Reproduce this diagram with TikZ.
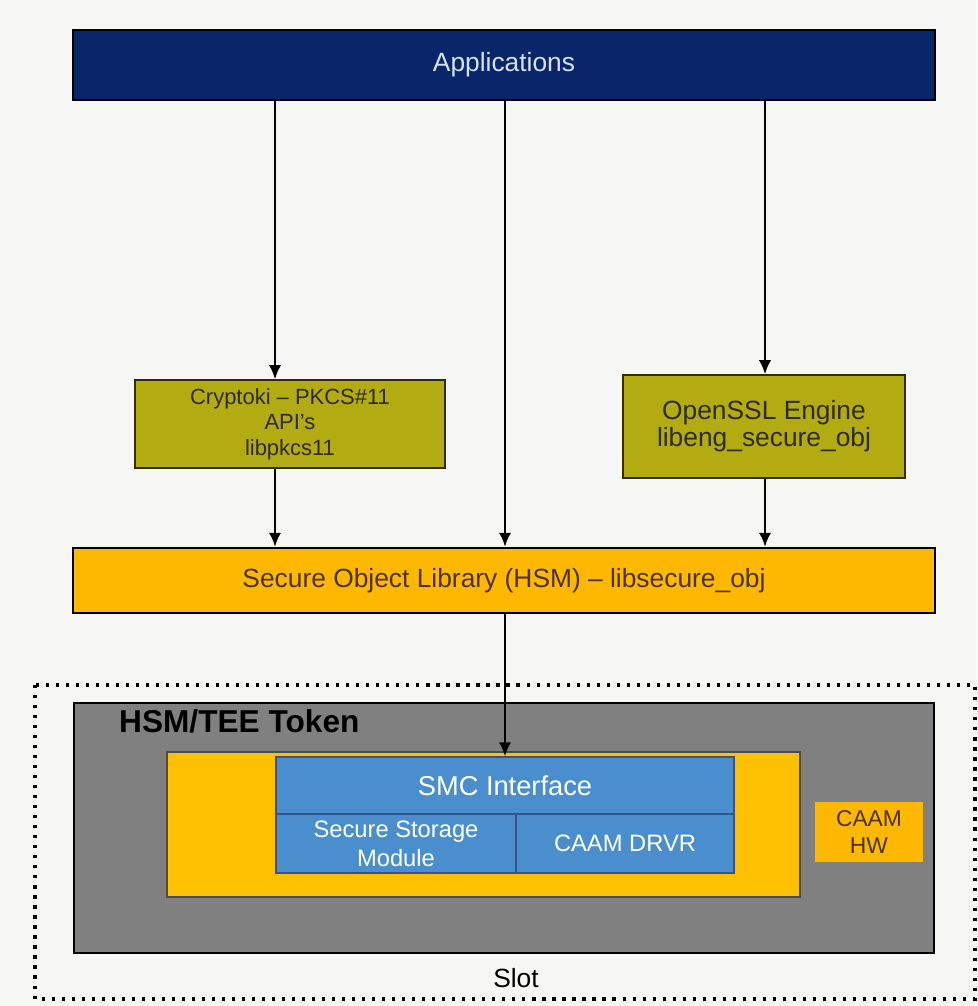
\documentclass[tikz,border=0pt]{standalone}
\usepackage{fontspec}
\setmainfont{Liberation Sans}
\usetikzlibrary{arrows.meta, positioning, calc}
\definecolor{appnavy}{RGB}{10,38,106}
\definecolor{apptext}{RGB}{214,226,244}
\definecolor{libolive}{RGB}{178,172,18}
\definecolor{libtext}{RGB}{48,44,8}
\definecolor{solorange}{RGB}{255,184,0}
\definecolor{soltext}{RGB}{78,52,0}
\definecolor{tokgray}{RGB}{128,128,128}
\definecolor{teeyellow}{RGB}{255,192,0}
\definecolor{teeblue}{RGB}{74,142,206}
\definecolor{pagebg}{RGB}{246,246,244}
\tikzset{
    % wide layer bars (applications, secure object library)
    layer/.style={draw=black, line width=1.3pt, inner sep=0pt},
    % middle library boxes (pkcs11, openssl engine)
    libbox/.style={draw=libtext, line width=0.8pt, fill=libolive, inner sep=0pt,
                   align=center, text=libtext},
    % blocks inside the trusted side
    teeblock/.style={draw=appnavy!80, line width=0.7pt, fill=teeblue, inner sep=0pt,
                     align=center, text=white},
    % directed edges
    edge/.style={-{Latex[length=8pt, width=7pt]}, line width=1.4pt},
    % dotted slot frame
    slotframe/.style={line width=1.8pt, dash pattern=on 1.8pt off 3.9pt},
}
\newcommand{\fsz}[2]{\fontsize{#1}{#2}\selectfont}

\begin{document}
\begin{tikzpicture}

    \fill[pagebg] (0, 0) rectangle (19.54, -20.12);
    \useasboundingbox (0, 0) rectangle (19.54, -20.12);

    % ===== top: applications and the two libraries =====
    \node[layer, fill=appnavy, text=apptext, font=\fsz{15}{17},
          minimum width=17.24cm, minimum height=1.40cm]
        (apps) at (10.08, -1.30) {Applications};

    \node[libbox, font=\fsz{12.5}{14.5}, minimum width=6.20cm, minimum height=1.76cm]
        (pkcs) at (5.80, -8.48) {Cryptoki -- PKCS\#11\\API's\\libpkcs11};
    \node[libbox, font=\fsz{15}{15.5}, minimum width=5.64cm, minimum height=2.06cm]
        (ossl) at (15.28, -8.53) {OpenSSL Engine\\libeng\_secure\_obj};

    \node[layer, fill=solorange, text=soltext, font=\fsz{15}{17},
          minimum width=17.24cm, minimum height=1.30cm]
        (sol) at (10.08, -11.61) {Secure Object Library (HSM) -- libsecure\_obj};

    % arrow columns
    \coordinate (colL) at (5.50, 0);
    \coordinate (colM) at (10.10, 0);
    \coordinate (colR) at (15.30, 0);

    \draw[edge] (apps.south -| colL) -- (pkcs.north -| colL);
    \draw[edge] (apps.south -| colM) -- (sol.north -| colM);
    \draw[edge] (apps.south -| colR) -- (ossl.north -| colR);
    \draw[edge] (pkcs.south -| colL) -- (sol.north -| colL);
    \draw[edge] (ossl.south -| colR) -- (sol.north -| colR);

    % ===== bottom: slot with the HSM/TEE token =====
    \draw[slotframe] (0.70, -13.70) rectangle (19.50, -19.98);
    \node[font=\fsz{15}{17}] (slot) at (10.32, -19.56) {Slot};

    \node[layer, fill=tokgray, minimum width=17.20cm, minimum height=5.00cm]
        (token) at (10.08, -16.56) {};
    \node[anchor=base west, font=\fsz{18}{20}\bfseries] (toklbl) at (2.26, -14.64) {HSM/TEE Token};

    \node[draw=black!70, line width=0.8pt, fill=teeyellow, inner sep=0pt,
          minimum width=12.66cm, minimum height=2.90cm] (tee) at (9.67, -16.49) {};

    \node[teeblock, font=\fsz{15.5}{17}, minimum width=9.16cm, minimum height=1.14cm]
        (smc) at (10.10, -15.71) {SMC Interface};
    \node[teeblock, font=\fsz{13.5}{16.5}, minimum width=4.80cm, minimum height=1.18cm]
        (ssm) at (7.92, -16.87) {Secure Storage\\Module};
    \node[teeblock, font=\fsz{13.5}{16}, minimum width=4.36cm, minimum height=1.18cm]
        (drvr) at (12.50, -16.87) {CAAM DRVR};

    \node[fill=solorange, text=soltext, inner sep=0pt, align=center, font=\fsz{13}{15.3},
          minimum width=2.16cm, minimum height=1.20cm]
        (caam) at (17.38, -16.64) {CAAM\\HW};

    \draw[edge] (sol.south -| colM) -- (smc.north -| colM);

\end{tikzpicture}
\end{document}
